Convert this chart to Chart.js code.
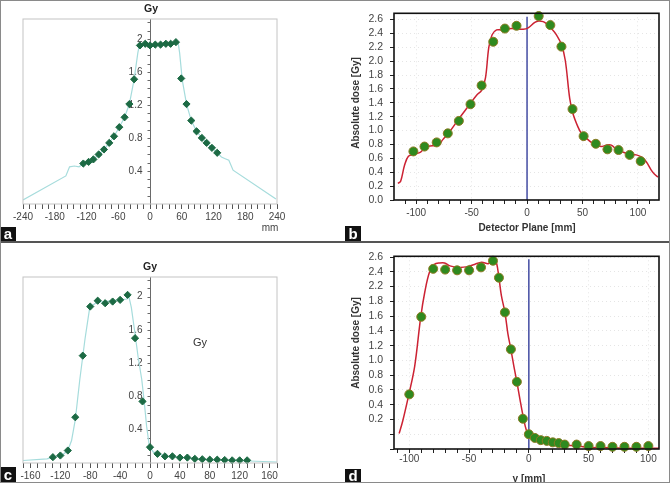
<!DOCTYPE html>
<html>
<head>
<meta charset="utf-8">
<script src="https://cdn.jsdelivr.net/npm/chart.js@4.4.1/dist/chart.umd.min.js"></script>
<style>
  body { margin: 0; background: #fff; }
  #fig { position: relative; width: 670px; height: 483px; overflow: hidden; background: #fff; }
  canvas { position: absolute; }
  .tag { position: absolute; width: 16px; background: #111; color: #fff; text-align: center;
         font: bold 15px "Liberation Sans", Arial, sans-serif; }
  #sep { position: absolute; left: 0; top: 241px; width: 670px; height: 2px; background: #555; }
  #edge { position: absolute; left: 0; top: 0; width: 670px; height: 483px; box-sizing: border-box;
          border: 1px solid #8a8a8a; pointer-events: none; }
</style>
</head>
<body>
<div id="fig">
  <canvas id="chartA" width="335" height="241" style="left:0;top:0"></canvas>
  <canvas id="chartB" width="335" height="241" style="left:335px;top:0"></canvas>
  <canvas id="chartC" width="335" height="240" style="left:0;top:243px"></canvas>
  <canvas id="chartD" width="335" height="240" style="left:335px;top:243px"></canvas>
  <div id="sep"></div>
  <div class="tag" style="left:0;top:227px;height:14px;line-height:14px">a</div>
  <div class="tag" style="left:345px;top:226px;height:15px;line-height:15px">b</div>
  <div class="tag" style="left:0;top:467px;height:16px;line-height:16px">c</div>
  <div class="tag" style="left:345px;top:469px;height:14px;line-height:14px">d</div>
  <div id="edge"></div>
</div>
<script>
// ---- panel a : crossline profile, film points vs planned curve ----
const aPointX = [-126, -116, -107, -97, -87, -77, -68, -58, -48, -39, -30, -19, -9, 0, 10, 20, 30, 39, 49, 59, 69, 78, 88, 98, 107, 117, 127];
const aPointY = [0.49, 0.51, 0.54, 0.60, 0.66, 0.74, 0.82, 0.93, 1.05, 1.21, 1.51, 1.92, 1.94, 1.92, 1.93, 1.93, 1.94, 1.94, 1.96, 1.52, 1.21, 1.01, 0.88, 0.80, 0.74, 0.68, 0.62];
const aLineX = [-240, -159, -152, -143, -134, -126, -116, -107, -97, -87, -77, -68, -58, -48, -39, -30, -23, -20, -9, 0, 30, 49, 53, 56, 61, 69, 78, 88, 98, 107, 117, 127, 135, 141, 149, 157, 238];
const aLineY = [0.05, 0.34, 0.45, 0.46, 0.45, 0.49, 0.51, 0.54, 0.60, 0.66, 0.74, 0.82, 0.93, 1.05, 1.21, 1.51, 1.83, 1.93, 1.92, 1.91, 1.93, 1.96, 1.96, 1.83, 1.50, 1.21, 1.01, 0.88, 0.80, 0.74, 0.68, 0.62, 0.57, 0.55, 0.53, 0.41, 0.06];

// ---- panel b : detector plane ----
const bPointX = [-102.5, -92.5, -81.5, -71.5, -61.5, -51, -41, -30.5, -20, -9.5, 10.5, 21, 31, 41, 51, 62, 72.5, 82.5, 92.5, 102.5];
const bPointY = [0.70, 0.77, 0.83, 0.96, 1.14, 1.38, 1.65, 2.28, 2.47, 2.51, 2.65, 2.52, 2.21, 1.31, 0.92, 0.81, 0.73, 0.72, 0.65, 0.56];
const bLineX = [-116.5, -114, -110.5, -107, -101.5, -96, -91, -85.5, -80, -76, -70, -61.5, -53, -45.5, -41, -37.5, -34.5, -31.5, -27.5, -23, -14, -3.5, 1, 7, 10.5, 14.5, 17.5, 22, 26.5, 31, 34.5, 38.5, 41.5, 46, 49, 53.5, 58, 62.5, 67, 71.5, 76, 80.5, 86.5, 92.5, 98.5, 103, 107.5, 112, 115, 118];
const bLineY = [0.24, 0.27, 0.50, 0.63, 0.66, 0.69, 0.77, 0.78, 0.79, 0.87, 0.98, 1.17, 1.35, 1.51, 1.58, 1.76, 2.20, 2.38, 2.45, 2.45, 2.47, 2.46, 2.48, 2.56, 2.58, 2.57, 2.54, 2.47, 2.38, 2.24, 2.01, 1.46, 1.24, 1.05, 0.96, 0.89, 0.83, 0.79, 0.77, 0.79, 0.79, 0.73, 0.69, 0.66, 0.65, 0.62, 0.55, 0.43, 0.37, 0.33];
const bMarkerTop = 2.64;

// ---- panel c : half-blocked profile ----
const cPointX = [-130, -120, -110, -100, -90, -80, -70, -60, -50, -40, -30, -20, -10, 0, 10, 20, 30, 40, 50, 60, 70, 80, 90, 100, 110, 120, 130];
const cPointY = [0.07, 0.09, 0.15, 0.55, 1.29, 1.88, 1.95, 1.92, 1.94, 1.96, 2.02, 1.50, 0.74, 0.19, 0.11, 0.08, 0.08, 0.065, 0.065, 0.05, 0.045, 0.04, 0.04, 0.036, 0.032, 0.032, 0.032];
const cLineX = [-170, -138, -118, -110, -105, -100, -94, -87, -81, -78, -71, -31, -29, -25, -20, -16, -11, -8, -4.5, -1, 4.5, 22, 67, 132, 170];
const cLineY = [0.03, 0.05, 0.09, 0.15, 0.27, 0.52, 1.0, 1.49, 1.85, 1.89, 1.93, 1.97, 2.03, 1.87, 1.55, 1.28, 1.0, 0.76, 0.44, 0.21, 0.13, 0.08, 0.044, 0.024, 0.012];

// ---- panel d : y profile ----
const dPointX = [-100, -90, -80, -70, -60, -50, -40, -30, -25, -20, -15, -10, -5, 0, 5, 10, 15, 20, 25, 30, 40, 50, 60, 70, 80, 90, 100];
const dPointY = [0.74, 1.79, 2.44, 2.43, 2.42, 2.42, 2.46, 2.55, 2.32, 1.85, 1.35, 0.91, 0.41, 0.20, 0.15, 0.12, 0.11, 0.09, 0.08, 0.06, 0.06, 0.04, 0.04, 0.03, 0.03, 0.03, 0.04];
const dLineX = [-108.5, -105.5, -100.5, -95.5, -90.5, -87, -83, -79, -74.5, -70.5, -66, -59, -51, -45.5, -39.5, -34, -31.5, -29, -27, -25, -23, -20, -17.5, -15, -12.5, -10, -7.5, -4.5, -2, 0.5, 3.5, 10.5, 19, 33, 41.5, 50, 61, 89, 110];
const dLineY = [0.21, 0.38, 0.73, 1.12, 1.78, 2.13, 2.40, 2.50, 2.52, 2.52, 2.48, 2.46, 2.47, 2.50, 2.53, 2.51, 2.54, 2.57, 2.52, 2.32, 2.08, 1.85, 1.56, 1.35, 1.12, 0.91, 0.68, 0.42, 0.25, 0.18, 0.14, 0.10, 0.08, 0.05, 0.04, 0.02, 0.02, 0.01, 0.01];
const dMarkerTop = 2.57;

// tick labels
const acYTickValues = [0.4, 0.8, 1.2, 1.6, 2];
const acYTickLabels = ['0.4', '0.8', '1.2', '1.6', '2'];
const bYTicks = [0, 0.2, 0.4, 0.6, 0.8, 1.0, 1.2, 1.4, 1.6, 1.8, 2.0, 2.2, 2.4, 2.6];
const dYTicks = [0, 0.2, 0.4, 0.6, 0.8, 1.0, 1.2, 1.4, 1.6, 1.8, 2.0, 2.2, 2.4, 2.6];
const dYTickLabels = ['', '', '0.2', '0.4', '0.6', '0.8', '1.0', '1.2', '1.4', '1.6', '1.8', '2.2', '2.4', '2.6'];

const FONT = '"Liberation Sans", Arial, sans-serif';
const pts = (xs, ys) => xs.map((x, i) => ({ x: x, y: ys[i] }));
const range = (a, b, s) => { const r = []; for (let v = a; v <= b + 1e-9; v += s) r.push(Math.round(v * 100) / 100); return r; };

// frame round the plot area
const framePlugin = {
  id: 'frame',
  afterDatasetsDraw(chart, args, opts) {
    const { ctx, chartArea: c } = chart;
    ctx.save();
    ctx.strokeStyle = opts.color;
    ctx.lineWidth = opts.width;
    ctx.strokeRect(c.left, c.top, c.right - c.left, c.bottom - c.top);
    ctx.restore();
  }
};

// vertical axis drawn through x = 0 (panels a and c)
const centerAxis = {
  id: 'centerAxis',
  beforeDatasetsDraw(chart, args, opts) {
    if (!opts.on) return;
    const { ctx, chartArea: c, scales: { x, y } } = chart;
    const px = Math.round(x.getPixelForValue(0)) + 0.5;
    ctx.save();
    ctx.strokeStyle = '#6a6a6a';
    ctx.lineWidth = 1;
    ctx.beginPath(); ctx.moveTo(px, c.top); ctx.lineTo(px, c.bottom); ctx.stroke();
    range(0.1, 2.2, 0.1).forEach(v => {
      const py = Math.round(y.getPixelForValue(v)) + 0.5;
      ctx.beginPath(); ctx.moveTo(px - 3, py); ctx.lineTo(px, py); ctx.stroke();
    });
    ctx.fillStyle = '#444';
    ctx.font = '10px ' + FONT;
    ctx.textAlign = 'right';
    ctx.textBaseline = 'middle';
    acYTickValues.forEach((v, i) => ctx.fillText(acYTickLabels[i], px - 8, y.getPixelForValue(v)));
    ctx.restore();
  }
};

// free text: axis titles and units
const textMarks = {
  id: 'textMarks',
  afterDraw(chart, args, opts) {
    const ctx = chart.ctx;
    (opts.items || []).forEach(it => {
      ctx.save();
      ctx.font = it.font;
      ctx.fillStyle = it.color || '#222';
      ctx.textAlign = 'center';
      ctx.textBaseline = 'middle';
      ctx.translate(it.x, it.y);
      if (it.rot) ctx.rotate(it.rot);
      ctx.fillText(it.text, 0, 0);
      ctx.restore();
    });
  }
};

function centerChart(id, cfg) {
  return new Chart(document.getElementById(id), {
    type: 'scatter',
    data: {
      datasets: [
        { data: pts(cfg.px, cfg.py), pointStyle: 'rectRot', pointRadius: 3.6, backgroundColor: '#1c6a44',
          borderColor: '#1c6a44', borderWidth: 1, clip: false, order: 1 },
        { data: pts(cfg.lx, cfg.ly), showLine: true, pointRadius: 0, borderColor: '#a6dcdc', borderWidth: 1.2,
          tension: 0, order: 2 }
      ]
    },
    options: {
      responsive: false, animation: false, devicePixelRatio: 1,
      layout: { padding: { top: cfg.top, left: 23, right: 58, bottom: 0 } },
      scales: {
        x: {
          type: 'linear', min: cfg.xmin, max: cfg.xmax,
          afterBuildTicks: s => { s.ticks = range(cfg.xmin + cfg.xoff, cfg.xmax - cfg.xoff, cfg.xstep).map(v => ({ value: v })); },
          afterFit: s => { s.height = cfg.xh; },
          border: { display: false },
          grid: { drawOnChartArea: false, tickLength: 5, tickColor: '#555' },
          ticks: { autoSkip: false, maxRotation: 0, padding: 2, color: '#444', font: { family: FONT, size: 10 },
                   callback: v => (Math.round(v) % cfg.xlab === 0 ? String(Math.round(v)) : '') }
        },
        y: { display: false, min: 0, max: cfg.ymax }
      },
      plugins: {
        legend: { display: false }, tooltip: { enabled: false },
        frame: { color: '#c4c4c4', width: 1 },
        centerAxis: { on: true },
        textMarks: { items: cfg.texts }
      }
    },
    plugins: [framePlugin, centerAxis, textMarks]
  });
}

function detectorChart(id, cfg) {
  return new Chart(document.getElementById(id), {
    type: 'scatter',
    data: {
      datasets: [
        { data: pts(cfg.px, cfg.py), pointStyle: 'circle', pointRadius: 4.5, backgroundColor: '#2f8a1f',
          borderColor: '#8b7a22', borderWidth: 1, clip: false, order: 1 },
        { data: pts(cfg.lx, cfg.ly), showLine: true, pointRadius: 0, borderColor: '#cc2233', borderWidth: 1.5,
          tension: 0.35, order: 2 },
        { data: [{ x: 0, y: 0 }, { x: 0, y: cfg.markTop }], showLine: true, pointRadius: 0,
          borderColor: '#4f57a8', borderWidth: 1.6, order: 3 }
      ]
    },
    options: {
      responsive: false, animation: false, devicePixelRatio: 1,
      layout: { padding: { top: cfg.top, left: 0, right: 11, bottom: 0 } },
      scales: {
        x: {
          type: 'linear', min: cfg.xmin, max: cfg.xmax,
          afterBuildTicks: s => { s.ticks = range(-110, 110, 10).filter(v => v >= cfg.xmin && v <= cfg.xmax).map(v => ({ value: v })); },
          afterFit: s => { s.height = cfg.xh; },
          border: { display: false, dash: [1, 3] },
          grid: { tickLength: 4, tickColor: '#222',
                  color: c => (c.tick && c.tick.value % 50 === 0 ? 'rgba(0,0,0,0.10)' : 'rgba(0,0,0,0)') },
          ticks: { autoSkip: false, maxRotation: 0, padding: cfg.xpad, color: '#444', font: { family: FONT, size: 10 },
                   callback: v => (v % 50 === 0 ? String(v) : '') }
        },
        y: {
          min: 0, max: cfg.ymax,
          afterBuildTicks: s => { s.ticks = cfg.yticks.map(v => ({ value: v })); },
          afterFit: s => { s.width = 59; },
          border: { display: false, dash: [1, 3] },
          grid: { tickLength: 4, tickColor: '#222', color: 'rgba(0,0,0,0.10)' },
          ticks: { autoSkip: false, padding: 7, color: '#444', font: { family: FONT, size: 10.5 },
                   callback: cfg.ylabel }
        }
      },
      plugins: {
        legend: { display: false }, tooltip: { enabled: false },
        frame: { color: '#111', width: 1.6 },
        textMarks: { items: cfg.texts }
      }
    },
    plugins: [framePlugin, textMarks]
  });
}

centerChart('chartA', {
  px: aPointX, py: aPointY, lx: aLineX, ly: aLineY,
  xmin: -240, xmax: 240, xoff: 0, xstep: 12, xlab: 60, ymax: 2.24, top: 19, xh: 37,
  texts: [
    { text: 'Gy', x: 151, y: 9, font: 'bold 10.5px ' + FONT },
    { text: 'mm', x: 270, y: 228, font: '10px ' + FONT, color: '#444' }
  ]
});

detectorChart('chartB', {
  px: bPointX, py: bPointY, lx: bLineX, ly: bLineY, markTop: bMarkerTop,
  xmin: -120, xmax: 119, ymax: 2.69, top: 4, xh: 41, xpad: 3,
  yticks: bYTicks, ylabel: v => v.toFixed(1),
  texts: [
    { text: 'Detector Plane [mm]', x: 192, y: 228, font: 'bold 10px ' + FONT, color: '#333' },
    { text: 'Absolute dose [Gy]', x: 21, y: 103, rot: -Math.PI / 2, font: 'bold 10px ' + FONT, color: '#333' }
  ]
});

centerChart('chartC', {
  px: cPointX, py: cPointY, lx: cLineX, ly: cLineY,
  xmin: -170, xmax: 170, xoff: 0, xstep: 10, xlab: 40, ymax: 2.235, top: 34, xh: 20,
  texts: [
    { text: 'Gy', x: 150, y: 24, font: 'bold 10.5px ' + FONT },
    { text: 'Gy', x: 200, y: 100, font: '11px ' + FONT, color: '#333' }
  ]
});

detectorChart('chartD', {
  px: dPointX, py: dPointY, lx: dLineX, ly: dLineY, markTop: dMarkerTop,
  xmin: -112.8, xmax: 108.9, ymax: 2.61, top: 7, xh: 34, xpad: 0,
  yticks: dYTicks, ylabel: (v, i) => dYTickLabels[i],
  texts: [
    { text: 'y [mm]', x: 194, y: 236, font: 'bold 10px ' + FONT, color: '#333' },
    { text: 'Absolute dose [Gy]', x: 21, y: 100, rot: -Math.PI / 2, font: 'bold 10px ' + FONT, color: '#333' }
  ]
});
</script>
</body>
</html>
